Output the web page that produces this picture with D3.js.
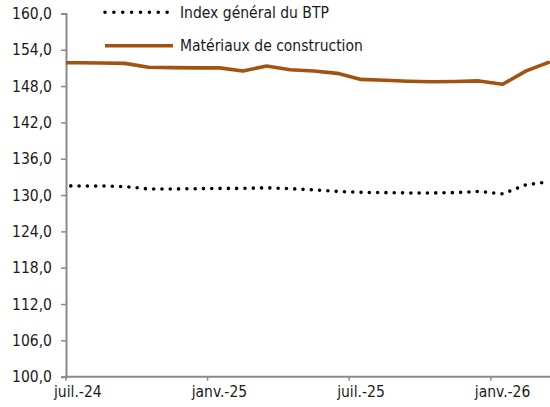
<!DOCTYPE html>
<html><head><meta charset="utf-8">
<script src="https://cdn.jsdelivr.net/npm/d3@7"></script>
<style>
html,body{margin:0;padding:0;background:#fff;}
svg text{font-family:"DejaVu Sans Condensed","DejaVu Sans",sans-serif;font-stretch:condensed;fill:#1a1a1a;}
</style></head>
<body><svg id="c" width="550" height="407"></svg>
<script>
// Months (index 0 = juin-24, partially outside the axis start)
const months = ["juin-24","juil.-24","août-24","sept.-24","oct.-24","nov.-24","déc.-24",
  "janv.-25","févr.-25","mars-25","avr.-25","mai-25","juin-25",
  "juil.-25","août-25","sept.-25","oct.-25","nov.-25","déc.-25",
  "janv.-26","févr.-26","mars-26"];
const indexBTP = [131.55,131.5,131.5,131.4,131.0,131.0,131.05,131.1,131.1,131.2,131.05,
  130.85,130.6,130.45,130.4,130.35,130.35,130.4,130.6,130.2,131.7,132.2];
const materiaux = [151.85,151.85,151.8,151.75,151.1,151.05,151.0,151.0,150.5,151.3,150.7,
  150.5,150.1,149.1,148.95,148.8,148.7,148.75,148.85,148.3,150.5,152.0];
const yTicks = [100,106,112,118,124,130,136,142,148,154,160];
const xTickIdx = [1,7,13,19];
const seriesNames = ["Index général du BTP","Matériaux de construction"];

const svg = d3.select("#c");
const L = 66, R = 550, T = 13.4, B = 376.7;
const step = 23.6;
const x = d3.scaleLinear().domain([1, 22]).range([L, L + 21*step]);
const y = d3.scaleLinear().domain([100,160]).range([B, T]);
const xc = i => x(i + 0.5);

svg.append("defs").append("clipPath").attr("id","clip")
  .append("rect").attr("x",L).attr("y",0).attr("width",R-L).attr("height",B);

const axisColor = "#8a8a8a";
const brown = "#A3520F";

// Y axis
const yAxis = svg.append("g").attr("transform",`translate(${L},0)`)
  .call(d3.axisLeft(y).tickValues(yTicks).tickSize(5).tickPadding(9)
    .tickFormat(d => d3.format(".1f")(d).replace(".",",")));
yAxis.select(".domain").attr("stroke",axisColor).attr("stroke-width",2);
yAxis.selectAll(".tick line").attr("stroke",axisColor).attr("stroke-width",1.5);
yAxis.selectAll("text").attr("font-size","15.5px").attr("fill","#1a1a1a");

// X axis
const xg = svg.append("g").attr("transform",`translate(0,${B})`);
xg.append("line").attr("x1",L-1).attr("x2",R).attr("stroke",axisColor).attr("stroke-width",2);
xg.selectAll("line.t").data(xTickIdx).join("line").attr("class","t")
  .attr("x1",d=>x(d)).attr("x2",d=>x(d)).attr("y1",0).attr("y2",4)
  .attr("stroke",axisColor).attr("stroke-width",1.5);
xg.selectAll("text").data(xTickIdx).join("text")
  .attr("x",d=>xc(d)).attr("y",20.5).attr("text-anchor","middle")
  .attr("font-size","15.5px").text(d=>months[d]);

const line = d3.line().x((d,i)=>xc(i)).y(d=>y(d));
const plot = svg.append("g").attr("clip-path","url(#clip)");
plot.append("path").datum(materiaux).attr("d",line)
  .attr("fill","none").attr("stroke",brown).attr("stroke-width",3.6).attr("stroke-linejoin","round");
plot.append("path").datum(indexBTP).attr("d",line)
  .attr("fill","none").attr("stroke","#000").attr("stroke-width",3.6)
  .attr("stroke-linecap","round").attr("stroke-dasharray","0 8.3");

// Legend
const lg = svg.append("g");
lg.append("line").attr("x1",105).attr("x2",176).attr("y1",12.3).attr("y2",12.3)
  .attr("stroke","#000").attr("stroke-width",3.6).attr("stroke-linecap","round").attr("stroke-dasharray","0 8.875");
lg.append("text").attr("x",180).attr("y",17.5).attr("font-size","15.5px").text(seriesNames[0]);
lg.append("line").attr("x1",105).attr("x2",173).attr("y1",45.7).attr("y2",45.7)
  .attr("stroke",brown).attr("stroke-width",3.6);
lg.append("text").attr("x",180).attr("y",51).attr("font-size","15.5px").text(seriesNames[1]);
</script></body></html>
